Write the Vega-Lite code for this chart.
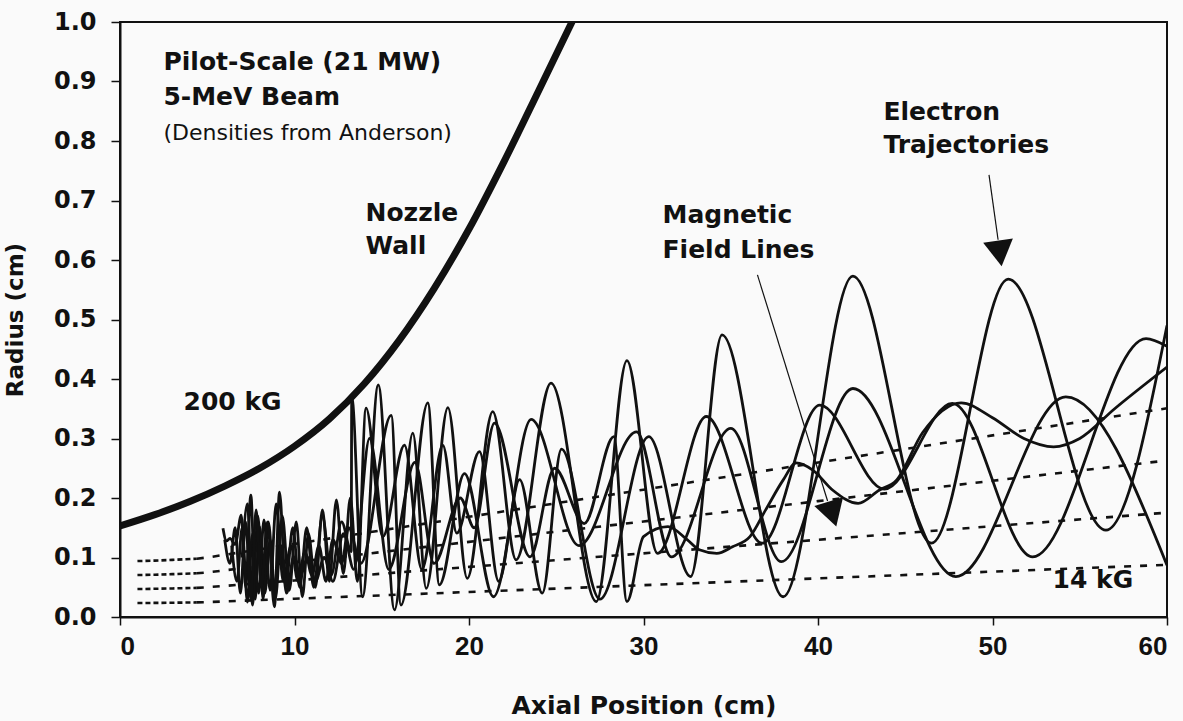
{
  "$schema": "https://vega.github.io/schema/vega-lite/v6.json",
  "width": 1047,
  "height": 595,
  "autosize": "none",
  "padding": {"left": 120, "top": 22, "right": 16, "bottom": 104},
  "background": "#fafafa",
  "config": {
    "view": {"stroke": "#111", "strokeWidth": 2},
    "axis": {"grid": false, "domainColor": "#111", "domainWidth": 2, "tickColor": "#111", "tickWidth": 1.5, "labelColor": "#111", "titleColor": "#111"}
  },
  "datasets": {
    "field": [
      {"line": "L1", "x": 1, "r": 0.0235}, {"line": "L1", "x": 2, "r": 0.0237}, {"line": "L1", "x": 3, "r": 0.024}, {"line": "L1", "x": 4.4, "r": 0.0245}, {"line": "L1", "x": 5, "r": 0.025}, {"line": "L1", "x": 10, "r": 0.0307}, {"line": "L1", "x": 20, "r": 0.0421}, {"line": "L1", "x": 30, "r": 0.0535}, {"line": "L1", "x": 40, "r": 0.0649}, {"line": "L1", "x": 50, "r": 0.0763}, {"line": "L1", "x": 60, "r": 0.0877},
      {"line": "L2", "x": 1, "r": 0.047}, {"line": "L2", "x": 2, "r": 0.0474}, {"line": "L2", "x": 3, "r": 0.048}, {"line": "L2", "x": 4.4, "r": 0.049}, {"line": "L2", "x": 5, "r": 0.05}, {"line": "L2", "x": 10, "r": 0.0614}, {"line": "L2", "x": 20, "r": 0.0842}, {"line": "L2", "x": 30, "r": 0.107}, {"line": "L2", "x": 40, "r": 0.1298}, {"line": "L2", "x": 50, "r": 0.1526}, {"line": "L2", "x": 60, "r": 0.1754},
      {"line": "L3", "x": 1, "r": 0.0705}, {"line": "L3", "x": 2, "r": 0.0711}, {"line": "L3", "x": 3, "r": 0.072}, {"line": "L3", "x": 4.4, "r": 0.0735}, {"line": "L3", "x": 5, "r": 0.075}, {"line": "L3", "x": 10, "r": 0.0921}, {"line": "L3", "x": 20, "r": 0.1263}, {"line": "L3", "x": 30, "r": 0.1605}, {"line": "L3", "x": 40, "r": 0.1947}, {"line": "L3", "x": 50, "r": 0.2289}, {"line": "L3", "x": 60, "r": 0.2631},
      {"line": "L4", "x": 1, "r": 0.094}, {"line": "L4", "x": 2, "r": 0.0948}, {"line": "L4", "x": 3, "r": 0.096}, {"line": "L4", "x": 4.4, "r": 0.098}, {"line": "L4", "x": 5, "r": 0.1}, {"line": "L4", "x": 10, "r": 0.1228}, {"line": "L4", "x": 20, "r": 0.1684}, {"line": "L4", "x": 30, "r": 0.214}, {"line": "L4", "x": 40, "r": 0.2596}, {"line": "L4", "x": 50, "r": 0.3052}, {"line": "L4", "x": 60, "r": 0.3508}
    ],
    "wall": [
      {"x": 0, "r": 0.153}, {"x": 2, "r": 0.172}, {"x": 4, "r": 0.194}, {"x": 6, "r": 0.22}, {"x": 8, "r": 0.25}, {"x": 10, "r": 0.287}, {"x": 12, "r": 0.333}, {"x": 14, "r": 0.392}, {"x": 16, "r": 0.465}, {"x": 18, "r": 0.552}, {"x": 20, "r": 0.652}, {"x": 22, "r": 0.765}, {"x": 24, "r": 0.885}, {"x": 25.9, "r": 1.0}
    ],
    "traj": [
      {"t": "T1", "x": 5.9, "r": 0.149}, {"t": "T1", "x": 6.1, "r": 0.128}, {"t": "T1", "x": 6.3, "r": 0.132}, {"t": "T1", "x": 6.6, "r": 0.122}, {"t": "T1", "x": 6.95, "r": 0.171}, {"t": "T1", "x": 7.2, "r": 0.05}, {"t": "T1", "x": 7.5, "r": 0.205}, {"t": "T1", "x": 7.75, "r": 0.03}, {"t": "T1", "x": 8.0, "r": 0.152}, {"t": "T1", "x": 8.3, "r": 0.04}, {"t": "T1", "x": 8.6, "r": 0.13}, {"t": "T1", "x": 8.9, "r": 0.03}, {"t": "T1", "x": 9.3, "r": 0.17}, {"t": "T1", "x": 9.7, "r": 0.045}, {"t": "T1", "x": 10.1, "r": 0.16}, {"t": "T1", "x": 10.45, "r": 0.034}, {"t": "T1", "x": 10.8, "r": 0.14}, {"t": "T1", "x": 11.2, "r": 0.05}, {"t": "T1", "x": 11.6, "r": 0.18}, {"t": "T1", "x": 12.0, "r": 0.06}, {"t": "T1", "x": 12.4, "r": 0.197}, {"t": "T1", "x": 12.8, "r": 0.073}, {"t": "T1", "x": 13.2, "r": 0.2}, {"t": "T1", "x": 13.6, "r": 0.06}, {"t": "T1", "x": 14.1, "r": 0.351}, {"t": "T1", "x": 15.06, "r": 0.135}, {"t": "T1", "x": 16.3, "r": 0.289}, {"t": "T1", "x": 17.3, "r": 0.08}, {"t": "T1", "x": 18.5, "r": 0.289}, {"t": "T1", "x": 19.3, "r": 0.141}, {"t": "T1", "x": 20.6, "r": 0.278}, {"t": "T1", "x": 21.7, "r": 0.06}, {"t": "T1", "x": 22.9, "r": 0.231}, {"t": "T1", "x": 24.2, "r": 0.04}, {"t": "T1", "x": 25.3, "r": 0.282}, {"t": "T1", "x": 27.5, "r": 0.03}, {"t": "T1", "x": 30.3, "r": 0.303}, {"t": "T1", "x": 32.7, "r": 0.068}, {"t": "T1", "x": 34.5, "r": 0.474}, {"t": "T1", "x": 38.0, "r": 0.034}, {"t": "T1", "x": 42.0, "r": 0.573}, {"t": "T1", "x": 46.5, "r": 0.124}, {"t": "T1", "x": 50.9, "r": 0.568}, {"t": "T1", "x": 56.5, "r": 0.146}, {"t": "T1", "x": 60, "r": 0.49},
      {"t": "T2", "x": 6.4, "r": 0.12}, {"t": "T2", "x": 6.7, "r": 0.06}, {"t": "T2", "x": 7.0, "r": 0.15}, {"t": "T2", "x": 7.3, "r": 0.025}, {"t": "T2", "x": 7.6, "r": 0.14}, {"t": "T2", "x": 7.95, "r": 0.04}, {"t": "T2", "x": 8.25, "r": 0.163}, {"t": "T2", "x": 8.6, "r": 0.045}, {"t": "T2", "x": 8.95, "r": 0.19}, {"t": "T2", "x": 9.35, "r": 0.06}, {"t": "T2", "x": 9.8, "r": 0.12}, {"t": "T2", "x": 10.2, "r": 0.06}, {"t": "T2", "x": 10.6, "r": 0.11}, {"t": "T2", "x": 11.0, "r": 0.07}, {"t": "T2", "x": 11.4, "r": 0.12}, {"t": "T2", "x": 11.8, "r": 0.06}, {"t": "T2", "x": 12.2, "r": 0.13}, {"t": "T2", "x": 12.7, "r": 0.09}, {"t": "T2", "x": 13.1, "r": 0.15}, {"t": "T2", "x": 13.8, "r": 0.09}, {"t": "T2", "x": 15.54, "r": 0.339}, {"t": "T2", "x": 16.1, "r": 0.02}, {"t": "T2", "x": 17.64, "r": 0.36}, {"t": "T2", "x": 18.3, "r": 0.054}, {"t": "T2", "x": 19.74, "r": 0.241}, {"t": "T2", "x": 21.4, "r": 0.034}, {"t": "T2", "x": 23.56, "r": 0.332}, {"t": "T2", "x": 26.3, "r": 0.12}, {"t": "T2", "x": 29.6, "r": 0.311}, {"t": "T2", "x": 31.6, "r": 0.101}, {"t": "T2", "x": 35.0, "r": 0.317}, {"t": "T2", "x": 37.9, "r": 0.093}, {"t": "T2", "x": 42.0, "r": 0.384}, {"t": "T2", "x": 47.9, "r": 0.068}, {"t": "T2", "x": 54.2, "r": 0.37}, {"t": "T2", "x": 60, "r": 0.087},
      {"t": "T3", "x": 7.0, "r": 0.1}, {"t": "T3", "x": 7.3, "r": 0.19}, {"t": "T3", "x": 7.6, "r": 0.02}, {"t": "T3", "x": 7.9, "r": 0.17}, {"t": "T3", "x": 8.2, "r": 0.03}, {"t": "T3", "x": 8.5, "r": 0.16}, {"t": "T3", "x": 8.85, "r": 0.05}, {"t": "T3", "x": 9.2, "r": 0.12}, {"t": "T3", "x": 9.55, "r": 0.04}, {"t": "T3", "x": 9.95, "r": 0.1}, {"t": "T3", "x": 10.35, "r": 0.07}, {"t": "T3", "x": 10.75, "r": 0.1}, {"t": "T3", "x": 11.2, "r": 0.06}, {"t": "T3", "x": 11.7, "r": 0.1}, {"t": "T3", "x": 12.2, "r": 0.06}, {"t": "T3", "x": 12.8, "r": 0.14}, {"t": "T3", "x": 13.4, "r": 0.08}, {"t": "T3", "x": 14.3, "r": 0.3}, {"t": "T3", "x": 15.4, "r": 0.08}, {"t": "T3", "x": 16.9, "r": 0.26}, {"t": "T3", "x": 18.0, "r": 0.09}, {"t": "T3", "x": 19.5, "r": 0.2}, {"t": "T3", "x": 20.3, "r": 0.15}, {"t": "T3", "x": 21.46, "r": 0.326}, {"t": "T3", "x": 23.5, "r": 0.101}, {"t": "T3", "x": 24.9, "r": 0.25}, {"t": "T3", "x": 26.6, "r": 0.157}, {"t": "T3", "x": 28.3, "r": 0.303}, {"t": "T3", "x": 29.05, "r": 0.026}, {"t": "T3", "x": 30.0, "r": 0.135}, {"t": "T3", "x": 31.4, "r": 0.152}, {"t": "T3", "x": 32.5, "r": 0.13}, {"t": "T3", "x": 33.2, "r": 0.113}, {"t": "T3", "x": 34.2, "r": 0.107}, {"t": "T3", "x": 35.1, "r": 0.118}, {"t": "T3", "x": 36.1, "r": 0.135}, {"t": "T3", "x": 37.0, "r": 0.18}, {"t": "T3", "x": 38.0, "r": 0.23}, {"t": "T3", "x": 38.75, "r": 0.259}, {"t": "T3", "x": 39.7, "r": 0.247}, {"t": "T3", "x": 40.85, "r": 0.213}, {"t": "T3", "x": 42.3, "r": 0.191}, {"t": "T3", "x": 43.5, "r": 0.213}, {"t": "T3", "x": 44.5, "r": 0.23}, {"t": "T3", "x": 46.0, "r": 0.31}, {"t": "T3", "x": 48.2, "r": 0.36}, {"t": "T3", "x": 50.0, "r": 0.335}, {"t": "T3", "x": 51.8, "r": 0.3}, {"t": "T3", "x": 53.5, "r": 0.286}, {"t": "T3", "x": 55.0, "r": 0.3}, {"t": "T3", "x": 57.0, "r": 0.35}, {"t": "T3", "x": 60, "r": 0.42},
      {"t": "T5", "x": 6.0, "r": 0.13}, {"t": "T5", "x": 6.3, "r": 0.09}, {"t": "T5", "x": 6.6, "r": 0.15}, {"t": "T5", "x": 6.9, "r": 0.04}, {"t": "T5", "x": 7.2, "r": 0.16}, {"t": "T5", "x": 7.5, "r": 0.03}, {"t": "T5", "x": 7.8, "r": 0.18}, {"t": "T5", "x": 8.1, "r": 0.05}, {"t": "T5", "x": 8.45, "r": 0.16}, {"t": "T5", "x": 8.85, "r": 0.017}, {"t": "T5", "x": 9.14, "r": 0.21}, {"t": "T5", "x": 9.5, "r": 0.05}, {"t": "T5", "x": 9.9, "r": 0.15}, {"t": "T5", "x": 10.3, "r": 0.05}, {"t": "T5", "x": 10.7, "r": 0.15}, {"t": "T5", "x": 11.1, "r": 0.05}, {"t": "T5", "x": 11.6, "r": 0.17}, {"t": "T5", "x": 12.1, "r": 0.07}, {"t": "T5", "x": 12.7, "r": 0.16}, {"t": "T5", "x": 13.25, "r": 0.11}, {"t": "T5", "x": 13.28, "r": 0.37}, {"t": "T5", "x": 13.9, "r": 0.034}, {"t": "T5", "x": 14.8, "r": 0.39}, {"t": "T5", "x": 15.73, "r": 0.012}, {"t": "T5", "x": 16.78, "r": 0.309}, {"t": "T5", "x": 17.55, "r": 0.048}, {"t": "T5", "x": 18.79, "r": 0.352}, {"t": "T5", "x": 19.9, "r": 0.065}, {"t": "T5", "x": 21.36, "r": 0.345}, {"t": "T5", "x": 22.7, "r": 0.096}, {"t": "T5", "x": 24.7, "r": 0.393}, {"t": "T5", "x": 27.3, "r": 0.026}, {"t": "T5", "x": 29.05, "r": 0.431}, {"t": "T5", "x": 30.8, "r": 0.107}, {"t": "T5", "x": 33.6, "r": 0.337}, {"t": "T5", "x": 36.8, "r": 0.124}, {"t": "T5", "x": 40.1, "r": 0.356}, {"t": "T5", "x": 43.8, "r": 0.215}, {"t": "T5", "x": 47.7, "r": 0.359}, {"t": "T5", "x": 52.3, "r": 0.101}, {"t": "T5", "x": 58.8, "r": 0.468}, {"t": "T5", "x": 60, "r": 0.455}
    ],
    "shafts": [
      {"a": "electron", "x": 49.8, "r": 0.743}, {"a": "electron", "x": 50.32, "r": 0.634},
      {"a": "field", "x": 36.53, "r": 0.575}, {"a": "field", "x": 40.55, "r": 0.195}
    ],
    "heads": [
      {"a": "electron", "x": 50.42, "r": 0.611},
      {"a": "field", "x": 40.83, "r": 0.173}
    ],
    "labels": [
      {"text": "Pilot-Scale (21 MW)", "x": 2.49, "r": 0.933},
      {"text": "5-MeV Beam", "x": 2.49, "r": 0.874},
      {"text": "Nozzle", "x": 14.07, "r": 0.679},
      {"text": "Wall", "x": 14.07, "r": 0.624},
      {"text": "200 kG", "x": 3.64, "r": 0.361},
      {"text": "Magnetic", "x": 31.09, "r": 0.676},
      {"text": "Field Lines", "x": 31.09, "r": 0.617},
      {"text": "Electron", "x": 43.75, "r": 0.849},
      {"text": "Trajectories", "x": 43.75, "r": 0.793},
      {"text": "14 kG", "x": 53.44, "r": 0.062}
    ],
    "note": [
      {"text": "(Densities from Anderson)", "x": 2.49, "r": 0.813}
    ]
  },
  "encoding": {
    "x": {
      "field": "x", "type": "quantitative",
      "scale": {"domain": [0, 60], "nice": false, "zero": false},
      "axis": {
        "values": [0, 10, 20, 30, 40, 50, 60], "format": "d",
        "title": "Axial Position (cm)",
        "labelFont": "Liberation Sans", "labelFontWeight": "bold", "labelFontSize": 26,
        "labelPadding": 8, "tickSize": 8,
        "titleFont": "DejaVu Sans", "titleFontWeight": "bold", "titleFontSize": 25, "titlePadding": 34
      }
    },
    "y": {
      "field": "r", "type": "quantitative",
      "scale": {"domain": [0, 1], "nice": false},
      "axis": {
        "values": [0, 0.1, 0.2, 0.3, 0.4, 0.5, 0.6, 0.7, 0.8, 0.9, 1.0], "format": ".1f",
        "title": "Radius (cm)",
        "labelFont": "DejaVu Sans", "labelFontWeight": "bold", "labelFontSize": 24,
        "labelPadding": 15, "tickSize": 9,
        "titleFont": "DejaVu Sans", "titleFontWeight": "bold", "titleFontSize": 23, "titlePadding": 26
      }
    }
  },
  "layer": [
    {
      "data": {"name": "field"},
      "transform": [{"filter": "datum.x <= 4.4"}],
      "mark": {"type": "line", "color": "#111", "strokeWidth": 2.6, "strokeDash": [5, 3]},
      "encoding": {"detail": {"field": "line"}}
    },
    {
      "data": {"name": "field"},
      "transform": [{"filter": "datum.x >= 4.4"}],
      "mark": {"type": "line", "color": "#111", "strokeWidth": 2.6, "strokeDash": [7, 9]},
      "encoding": {"detail": {"field": "line"}}
    },
    {
      "data": {"name": "wall"},
      "mark": {"type": "line", "color": "#111", "strokeWidth": 7, "interpolate": "monotone", "clip": true, "strokeCap": "round"},
      "encoding": {}
    },
    {
      "data": {"name": "traj"},
      "mark": {"type": "line", "color": "#111", "strokeWidth": 2.8, "interpolate": "monotone", "clip": true},
      "encoding": {"detail": {"field": "t"}}
    },
    {
      "data": {"name": "shafts"},
      "mark": {"type": "line", "color": "#111", "strokeWidth": 1.2},
      "encoding": {"detail": {"field": "a"}}
    },
    {
      "data": {"name": "heads"},
      "transform": [{"filter": "datum.a == 'electron'"}],
      "mark": {"type": "point", "shape": "triangle-down", "filled": true, "color": "#111", "opacity": 1, "size": 900, "angle": -8}
    },
    {
      "data": {"name": "heads"},
      "transform": [{"filter": "datum.a == 'field'"}],
      "mark": {"type": "point", "shape": "triangle-down", "filled": true, "color": "#111", "opacity": 1, "size": 900, "angle": -17}
    },
    {
      "data": {"name": "labels"},
      "mark": {"type": "text", "font": "DejaVu Sans", "fontWeight": "bold", "fontSize": 25, "align": "left", "baseline": "middle", "color": "#111"},
      "encoding": {"text": {"field": "text"}}
    },
    {
      "data": {"name": "note"},
      "mark": {"type": "text", "font": "DejaVu Sans", "fontSize": 22, "align": "left", "baseline": "middle", "color": "#111"},
      "encoding": {"text": {"field": "text"}}
    }
  ]
}
